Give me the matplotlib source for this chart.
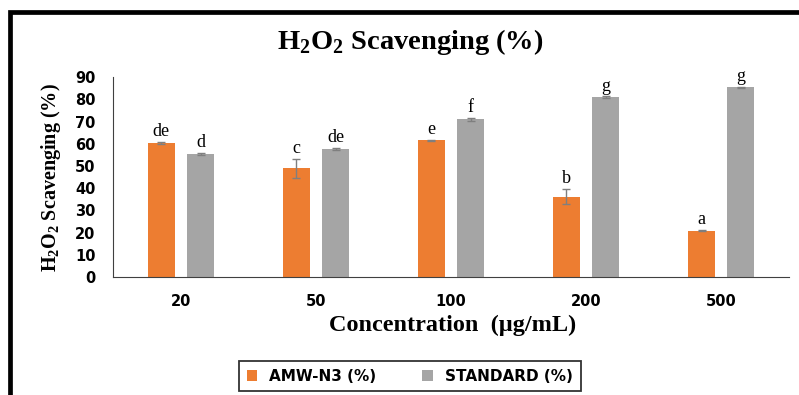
import numpy as np
import matplotlib
matplotlib.use("Agg")
import matplotlib.pyplot as plt
from matplotlib.lines import Line2D

# data
concentrations = ["20", "50", "100", "200", "500"]
amw_n3 = [60.4, 49.0, 61.6, 36.2, 20.8]
amw_n3_err = [0.3, 4.3, 0.3, 3.5, 0.3]
standard = [55.3, 57.7, 71.0, 81.0, 85.4]
standard_err = [0.5, 0.3, 0.8, 0.3, 0.3]
amw_letters = ["de", "c", "e", "b", "a"]
std_letters = ["d", "de", "f", "g", "g"]

plt.rcParams['mathtext.fontset'] = 'custom'
plt.rcParams['mathtext.rm'] = 'Liberation Serif:bold'
plt.rcParams['mathtext.bf'] = 'Liberation Serif:bold'

orange = '#ED7D31'
grey = '#A5A5A5'

fig = plt.figure(figsize=(7.99, 3.95), dpi=100)
ax = fig.add_axes([0.142, 0.2987, 0.845, 0.506])

x = np.arange(len(concentrations))
w = 0.2
off = 0.145
ax.bar(x - off, amw_n3, w, color=orange, yerr=amw_n3_err, capsize=3,
       error_kw=dict(ecolor='#7f7f7f', elinewidth=1, capthick=1), label='AMW-N3 (%)')
ax.bar(x + off, standard, w, color=grey, yerr=standard_err, capsize=3,
       error_kw=dict(ecolor='#7f7f7f', elinewidth=1, capthick=1), label='STANDARD (%)')

# significance letters above the bars
for i in range(len(x)):
    ax.text(x[i] - off, amw_n3[i] + amw_n3_err[i] + 0.8, amw_letters[i], ha='center', va='bottom',
            family='Liberation Serif', fontsize=13)
    ax.text(x[i] + off, standard[i] + standard_err[i] + 0.8, std_letters[i], ha='center', va='bottom',
            family='Liberation Serif', fontsize=13)

ax.set_xlim(-0.5, len(x) - 0.5)
ax.set_ylim(0, 90)
ax.set_yticks(range(0, 91, 10))
ax.set_xticks(x)
ax.set_xticklabels(concentrations)
ax.tick_params(length=0, labelsize=10.5)
ax.tick_params(axis='y', pad=13)
ax.tick_params(axis='x', pad=12)
for lab in ax.get_xticklabels() + ax.get_yticklabels():
    lab.set_fontweight('bold')
ax.spines['top'].set_visible(False)
ax.spines['right'].set_visible(False)
ax.spines['left'].set_color('#404040')
ax.spines['bottom'].set_color('#404040')

fig.text(0.513, 0.893, r'H$_\mathbf{2}$O$_\mathbf{2}$ Scavenging (%)', ha='center', va='center',
         family='Liberation Serif', fontweight='bold', fontsize=20.5)
fig.text(0.566, 0.177, 'Concentration  (\u00b5g/mL)', ha='center', va='center',
         family='Liberation Serif', fontweight='bold', fontsize=17.5)
fig.text(0.064, 0.55, r'H$_\mathbf{2}$O$_\mathbf{2}$ Scavenging (%)', ha='center', va='center',
         rotation=90, family='Liberation Serif', fontweight='bold', fontsize=14.5)

leg = fig.legend(loc='center', bbox_to_anchor=(0.513, 0.048), ncol=2, frameon=True,
                 fancybox=False, edgecolor='black', prop=dict(weight='bold', size=11),
                 handlelength=0.7, handleheight=0.7, columnspacing=3.0, borderpad=0.5)
leg.get_frame().set_linewidth(1.3)

# frame lines of the original picture (top and left)
fig.add_artist(Line2D([0.0119, 0.0119, 1.0], [0.0, 0.9696, 0.9696], color='black',
                      linewidth=3.4, solid_joinstyle='miter', transform=fig.transFigure))

fig.savefig('out.png', dpi=100)
